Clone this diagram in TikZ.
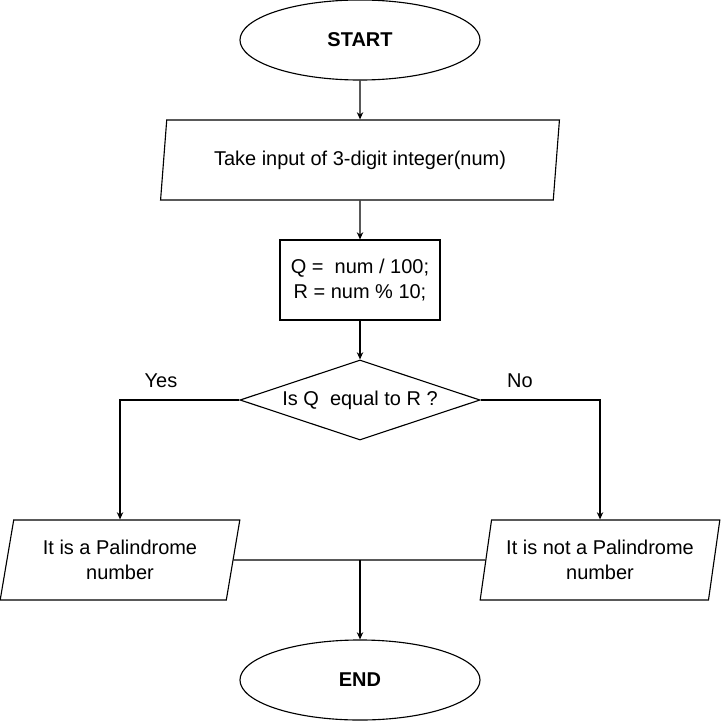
\documentclass[tikz,border=0pt]{standalone}
\usepackage{fontspec}
\setmainfont{Liberation Sans}
\usetikzlibrary{shapes.geometric, arrows.meta}

\begin{document}
\begin{tikzpicture}[x=0.025cm, y=-0.025cm, line width=0.8pt,
    every node/.style={font=\fontsize{14.2}{17.5}\selectfont, align=center},
    terminal/.style={draw, ellipse, minimum width=6cm, minimum height=2cm, font=\fontsize{14.2}{17.5}\selectfont\bfseries},
    io/.style={draw, trapezium, trapezium left angle=75.96, trapezium right angle=104.04, trapezium stretches=true, minimum height=2cm, inner sep=0pt},
    process/.style={draw, rectangle, minimum width=4cm, minimum height=2cm},
    decision/.style={draw, diamond, aspect=3, minimum width=6cm, minimum height=2cm, inner sep=0pt},
    arr/.style={-{Stealth[length=1.8mm, width=1.6mm]}}]
  \useasboundingbox (0,0) rectangle (721,721);
  \node[terminal] (start) at (360,40) {START};
  \node[io, minimum width=10cm] (input) at (360,160) {Take input of 3-digit integer(num)};
  \node[process] (calc) at (360,280) {Q = \ num / 100;\\R = num \% 10;};
  \node[decision] (check) at (360,400) {Is Q\ \ equal to R ?};
  \node[io, minimum width=6cm] (yes) at (120,560) {It is a Palindrome\\number};
  \node[io, minimum width=6cm] (no) at (600,560) {It is not a Palindrome\\number};
  \node[terminal] (end) at (360,680) {END};
  \node (yeslbl) at (161,381) {Yes};
  \node (nolbl) at (520,381) {No};
  \coordinate (join) at (360,560);

  \draw[arr] (start) -- (input);
  \draw[arr] (input) -- (calc);
  \draw[arr] (calc) -- (check);
  \draw[arr] (check.west) -| (yes.north);
  \draw[arr] (check.east) -| (no.north);
  \draw (yes.east) -- (no.west);
  \draw[arr] (join) -- (end);
\end{tikzpicture}
\end{document}
